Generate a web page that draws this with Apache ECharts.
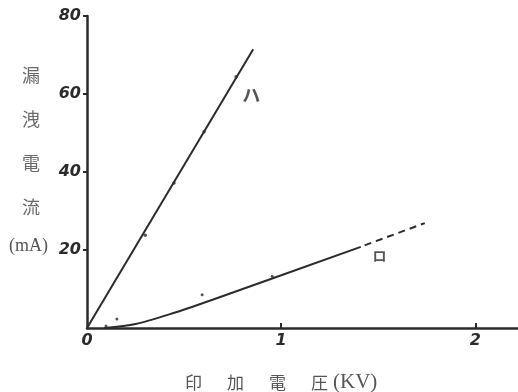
<!DOCTYPE html>
<html><head><meta charset="utf-8">
<script src="https://cdn.jsdelivr.net/npm/echarts@6/dist/echarts.min.js"></script>
<style>html,body{margin:0;padding:0;background:#fff}#c{width:518px;height:392px}</style>
</head><body><div id="c"></div>
<script>
// Leakage current vs. applied voltage for two samples (ハ, ロ)
const xTicks = [0, 1, 2];
const yTicks = [20, 40, 60, 80];
const lineHa = [[0, 0], [0.856, 71.5]];
const pointsHa = [[0.30, 23.8], [0.448, 37.2], [0.603, 50.3], [0.768, 64.4]];
const lineRo = [[0.09, 0], [0.25, 1.0], [0.45, 3.9], [0.65, 7.3], [1.41, 20.8]];
const lineRoExt = [[1.43, 21.2], [1.74, 26.9]];
const pointsRo = [[0.098, 0.5], [0.154, 2.3], [0.593, 8.5], [0.954, 13.3]];
const yTitleChars = ['漏', '洩', '電', '流'];
const xTitleChars = ['印', '加', '電', '圧'];

const ink = '#2b2b2b';
const numFont = { fontFamily: 'DejaVu Sans', fontStyle: 'italic', fontWeight: 'bold', fontSize: 16, color: ink };

const chart = echarts.init(document.getElementById('c'), null, { renderer: 'canvas' });

const graphics = [];
yTitleChars.forEach((ch, i) => {
  graphics.push({ type: 'text', left: 22, top: 66 + i * 44,
    style: { text: ch, font: '18px "Noto Sans CJK JP"', fill: '#6a6a6a' } });
});
graphics.push({ type: 'text', left: 9, top: 237,
  style: { text: '(mA)', font: '18px "Liberation Serif"', fill: '#555' } });
xTitleChars.forEach((ch, i) => {
  graphics.push({ type: 'text', left: 185 + i * 42, top: 374,
    style: { text: ch, font: '17px "Noto Sans CJK JP"', fill: '#555' } });
});
graphics.push({ type: 'text', left: 333, top: 372,
  style: { text: '(KV)', font: '21px "Liberation Serif"', fill: '#555' } });

chart.setOption({
  animation: false,
  backgroundColor: '#fff',
  grid: { left: 87, right: 0, top: 16, bottom: 64 },
  xAxis: {
    type: 'value', min: 0, max: 2.22,
    axisLine: { lineStyle: { color: ink, width: 2.5 } },
    axisTick: { show: true, inside: true, length: 5, customValues: xTicks.slice(1), lineStyle: { color: ink, width: 2 } },
    axisLabel: { ...numFont, margin: 5, customValues: xTicks, formatter: v => String(v) },
    splitLine: { show: false }
  },
  yAxis: {
    type: 'value', min: 0, max: 80,
    axisLine: { show: true, lineStyle: { color: ink, width: 2.5 } },
    axisTick: { show: true, inside: false, length: 4, customValues: yTicks, lineStyle: { color: ink, width: 2 } },
    axisLabel: { ...numFont, margin: 6, customValues: yTicks, formatter: v => String(v) },
    splitLine: { show: false }
  },
  graphic: graphics,
  series: [
    { type: 'line', data: lineHa, symbol: 'none', lineStyle: { color: ink, width: 2 } },
    { type: 'line', data: lineRo, symbol: 'none', smooth: 0.3,
      lineStyle: { color: ink, width: 2 } },
    { type: 'line', data: lineRoExt, symbol: 'none', lineStyle: { color: ink, width: 2, type: [7, 5] } },
    { type: 'scatter', data: pointsHa, symbolSize: 3.5, itemStyle: { color: ink } },
    { type: 'scatter', data: pointsRo, symbolSize: 3, itemStyle: { color: ink } },
    { type: 'scatter', data: [[0.80, 59.7]], symbolSize: 0,
      label: { show: true, position: 'right', offset: [-5, 0], formatter: 'ハ', fontFamily: 'Noto Sans CJK JP', fontSize: 18, fontWeight: 'bold', color: ink } },
    { type: 'scatter', data: [[1.465, 18.6]], symbolSize: 0,
      label: { show: true, position: 'right', offset: [-4, 0], formatter: 'ロ', fontFamily: 'Noto Sans CJK JP', fontSize: 14, fontWeight: 'bold', color: ink } }
  ]
});
</script>
</body></html>
